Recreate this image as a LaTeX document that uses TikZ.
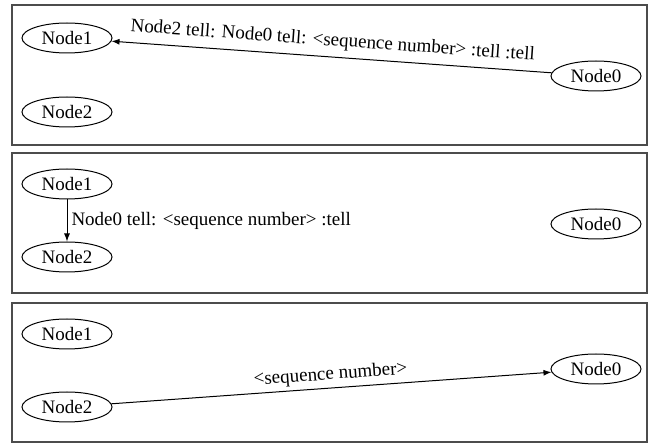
\documentclass[tikz,border=0pt]{standalone}
\usepackage{fontspec}
\setmainfont{Liberation Serif}
\usetikzlibrary{arrows.meta}
\usetikzlibrary{shapes.geometric}
\tikzset{>={Latex[length=4pt, width=3pt]}}
\tikzstyle{peer} = [ellipse, draw, minimum width=45pt, minimum height=15pt, inner sep=0pt]
\tikzstyle{panel} = [draw=black!70, line width=0.6pt]

\begin{document}
\begin{tikzpicture}[x=0.5pt, y=-0.5pt, font=\rmfamily\fontsize{9.5}{11}\selectfont, line width=0.5pt]
\useasboundingbox (0,0) rectangle (655,443);
% round one
\draw [panel] (12,5) rectangle (647,145);
\node [peer] (A1) at (67, 38) {Node1};
\node [peer] (A2) at (67, 112) {Node2};
\node [peer] (A0) at (596, 76) {Node0};
\draw [->] (A0) to node[pos=0.5, above, sloped] {Node2 tell: Node0 tell: <sequence number> :tell :tell} (A1);
% round two
\draw [panel] (12,153) rectangle (647,293);
\node [peer] (B1) at (67, 184) {Node1};
\node [peer] (B2) at (67, 257) {Node2};
\node [peer] (B0) at (596, 224) {Node0};
\draw [->] (B1) to node[pos=0.5, right, inner sep=2pt] {Node0 tell: <sequence number> :tell} (B2);
% round three
\draw [panel] (12,303) rectangle (647,442);
\node [peer] (C1) at (67, 334) {Node1};
\node [peer] (C2) at (67, 407) {Node2};
\node [peer] (C0) at (596, 369) {Node0};
\draw [->] (C2) to node[pos=0.5, above, sloped, inner sep=2pt] {<sequence number>} (C0);
\end{tikzpicture}
\end{document}
